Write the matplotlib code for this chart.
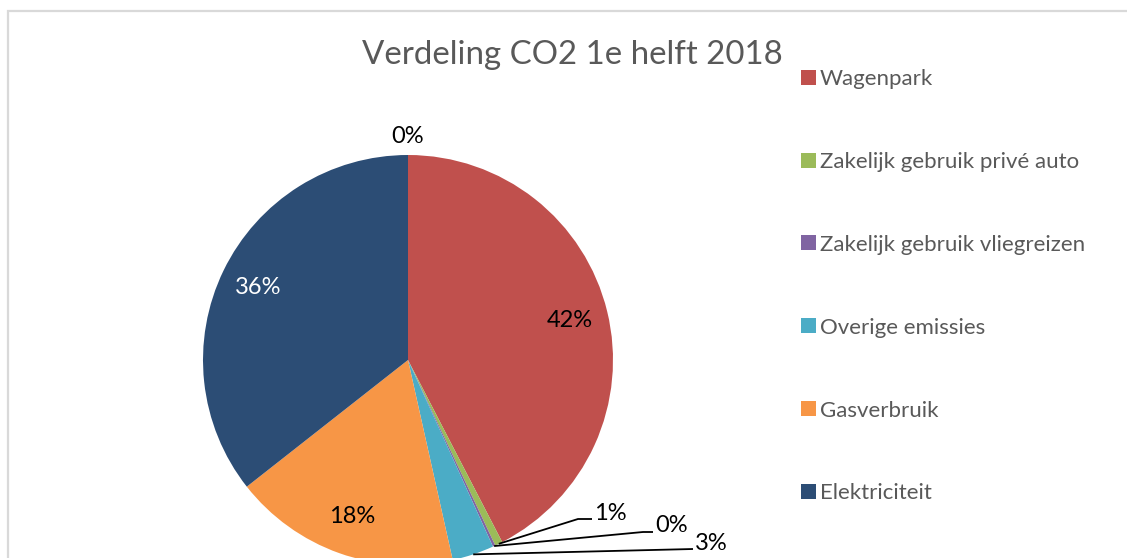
import matplotlib.pyplot as plt
from matplotlib.patches import Rectangle
import numpy as np

plt.rcParams['font.family'] = ['Lato', 'DejaVu Sans']

# Data (share of CO2, %)
categories = ['Wagenpark', 'Zakelijk gebruik privé auto', 'Zakelijk gebruik vliegreizen',
              'Overige emissies', 'Gasverbruik', 'Elektriciteit', '']
values = [42.4, 0.6, 0.2, 3.3, 17.9, 35.6, 0.0]
colors = ['#C0504D', '#9BBB59', '#8064A2', '#4BACC6', '#F79646', '#2C4D75', '#4F81BD']
label_colors = ['black', 'black', 'black', 'black', 'black', 'white', 'black']

W, H = 1127, 558
fig = plt.figure(figsize=(W / 100, H / 100), dpi=100)
ax = fig.add_axes([0, 0, 1, 1])

# chart area border
ax.add_patch(Rectangle((7.5, -10), W, H - 0.5, fill=False, edgecolor='#D9D9D9', linewidth=1.6))

cx, cy, R = 408, H - 360, 205
wedges, _ = ax.pie(values, colors=colors, startangle=90, counterclock=False,
                   center=(cx, cy), radius=R, frame=True,
                   wedgeprops=dict(linewidth=0))
ax.set_xlim(0, W)
ax.set_ylim(0, H)
ax.set_aspect('equal')
ax.axis('off')

def pct(v):
    return f'{v:.0f}%'

def point(w, frac):
    ang = np.deg2rad((w.theta1 + w.theta2) / 2)
    return cx + frac * R * np.cos(ang), cy + frac * R * np.sin(ang)

fs_lab = 17
# labels inside the large slices
for i in [0, 4, 5]:
    x, y = point(wedges[i], 0.81)
    ax.text(x, y, pct(values[i]), ha='center', va='center', fontsize=fs_lab, color=label_colors[i])

# zero slice at the top, outside end
x, y = point(wedges[6], 1.09)
ax.text(x, y, pct(values[6]), ha='center', va='center', fontsize=fs_lab, color='black')

# small slices with leader lines
leaders = {1: [(578, H - 519), (592, H - 519)],
           2: [(643, H - 532), (653, H - 532)],
           3: [(693, H - 549)]}
for i, pts in leaders.items():
    x0, y0 = point(wedges[i], 1.0)
    xs = [x0] + [p[0] for p in pts]
    ys = [y0] + [p[1] for p in pts]
    ax.plot(xs, ys, color='black', linewidth=1.3, solid_capstyle='butt')
    ax.text(xs[-1] + 2, ys[-1] + 6, pct(values[i]),
            ha='left', va='center', fontsize=fs_lab, color='black')

fig.text(572 / W, 1 - 55 / H, 'Verdeling CO2 1e helft 2018', ha='center', va='center',
         fontsize=23.8, color='#595959')

leg = ax.legend(wedges[:6], categories[:6], loc='upper left',
                bbox_to_anchor=(801 / W, 1 - 69 / H), bbox_transform=fig.transFigure,
                frameon=False, fontsize=16, labelcolor='#595959',
                handlelength=0.66, handleheight=0.66, handletextpad=0.2,
                labelspacing=2.83, borderpad=0, borderaxespad=0)

fig.savefig('out.png', dpi=100)
